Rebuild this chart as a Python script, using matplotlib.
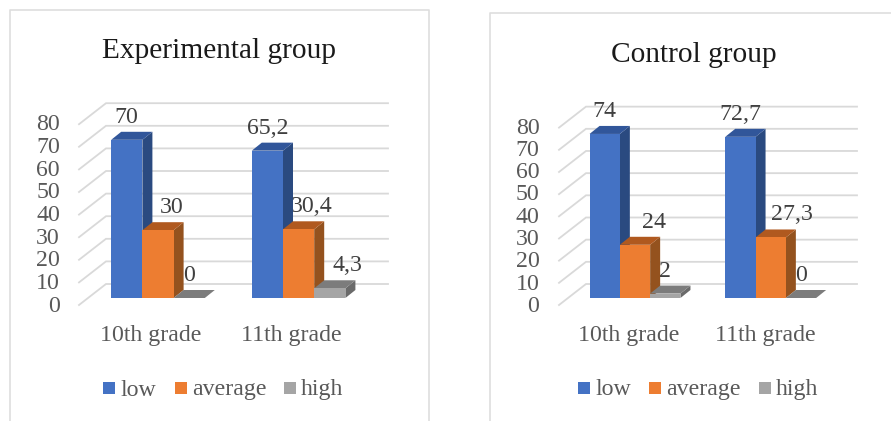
import matplotlib
matplotlib.use("Agg")
import matplotlib.pyplot as plt
from matplotlib.patches import Polygon, Rectangle

plt.rcParams["font.family"] = "Liberation Serif"

W, H = 891, 421
grades = ["10th grade", "11th grade"]
levels = ["low", "average", "high"]
y_ticks = [0, 10, 20, 30, 40, 50, 60, 70, 80]

exp_low = [70, 65.2]
exp_average = [30, 30.4]
exp_high = [0, 4.3]

ctl_low = [74, 72.7]
ctl_average = [24, 27.3]
ctl_high = [2, 0]

FRONT = ["#4472C4", "#ED7D31", "#A5A5A5"]
SIDE = ["#2A4A80", "#94521E", "#6A6A6A"]
TOP = ["#31569A", "#B0591F", "#7C7C7C"]
GRID = "#D9D9D9"
FRAME = "#DEDEDE"
TICK = "#595959"
LABEL = "#404040"
FS = 17.2

fig = plt.figure(figsize=(W / 100, H / 100), dpi=100, facecolor="white")
bg = fig.add_axes([0, 0, 1, 1])
bg.set_xlim(0, W)
bg.set_ylim(H, 0)
bg.axis("off")


def fmt(v):
    return f"{v:g}".replace(".", ",")


def panel(title, series, layout):
    # series are drawn on axes whose data units are group index and percent
    x0, bw, gap = layout["x0"], layout["bw"], layout["gap"]
    y0, sy = layout["y0"], layout["sy"]
    xl, xr = layout["plane"]
    ax = fig.add_axes([xl / W, 1 - y0 / H, (xr - xl) / W, 80 * sy / H])
    ax.set_xlim((xl - x0) / gap, (xr - x0) / gap)
    ax.set_ylim(0, 80)
    ax.axis("off")

    def depth(x, v, dx, dy):
        # shift a point by a pixel offset, staying in data units
        return x + dx / gap, v + dy / sy

    # side wall and back wall gridlines
    for v in y_ticks:
        px, py = zip(
            depth(ax.get_xlim()[0], v, -9, -7),
            depth(ax.get_xlim()[0], v, 18, 14),
            depth(ax.get_xlim()[1], v, 18, 14),
        )
        ax.plot(px, py, color=GRID, lw=1.3, clip_on=False, zorder=1,
                solid_joinstyle="miter")

    w = bw / gap
    for s, vals in enumerate(series):
        for g, v in enumerate(vals):
            xc = g + (s - 1) * w
            shift = layout["shift"][s][g]
            ax.text(xc + shift / gap, v + 25 / sy, fmt(v), ha="center", va="center_baseline",
                    fontsize=FS, color=LABEL, zorder=2, clip_on=False)

    # later bars cover the labels and side faces of earlier ones
    zo = 3
    for s, vals in enumerate(series):
        for g, v in enumerate(vals):
            xc = g + (s - 1) * w
            a, b = xc - w / 2, xc + w / 2
            side = [depth(b, 0, 0, 0), depth(b, 0, 10, 8), depth(b, v, 10, 8), depth(b, v, 0, 0)]
            top = [depth(a, v, 0, 0), depth(a, v, 10, 8), depth(b, v, 10, 8), depth(b, v, 0, 0)]
            ax.add_patch(Polygon(side, closed=True, fc=SIDE[s], ec="none", zorder=zo, clip_on=False))
            ax.add_patch(Polygon(top, closed=True, fc=TOP[s], ec="none", zorder=zo, clip_on=False))
            ax.bar([xc], [v], width=w, color=FRONT[s], zorder=zo, clip_on=False)
            zo += 1

    # text set in figure pixels
    for v, yp in zip(y_ticks, layout["ticks_y"]):
        bg.text(layout["tick_x"], yp, str(v), ha="right", va="center_baseline", fontsize=FS, color=TICK)
    for g, xp in zip(grades, layout["cat_x"]):
        bg.text(xp, 341, g, ha="center", va="baseline", fontsize=FS, color=TICK)
    bg.text(layout["title_x"], layout["title_y"], title, ha="center", va="baseline",
            fontsize=layout["title_fs"], color="#1A1A1A")
    for name, c, sq in zip(levels, FRONT, layout["legend"]):
        bg.add_patch(Rectangle((sq, 382), 12, 12, fc=c, ec="none"))
        bg.text(sq + 17, layout["legend_y"], name, ha="left", va="baseline", fontsize=FS, color=TICK)


panel(
    "Experimental group",
    [exp_low, exp_average, exp_high],
    dict(x0=158, bw=31.2, gap=140.6, y0=298, sy=2.26, plane=(88, 370),
         shift=[[0, 0], [14, 13], [0, 18]],
         ticks_y=[304 - i * 22.75 for i in range(9)], tick_x=60,
         cat_x=[151, 291], title_x=218.5, title_y=58, title_fs=21.2,
         legend=[103, 175, 284], legend_y=395.5),
)
panel(
    "Control group",
    [ctl_low, ctl_average, ctl_high],
    dict(x0=635, bw=30.3, gap=135.7, y0=298, sy=2.217, plane=(568, 839),
         shift=[[0, 0], [19, 21], [0, 0]],
         ticks_y=[304 - i * 22.3 for i in range(9)], tick_x=539.5,
         cat_x=[629, 765], title_x=693.5, title_y=61.5, title_fs=21.2,
         legend=[578, 649, 759], legend_y=394.7),
)

# chart area frames, open at the bottom edge
bg.plot([9.5, 9.5, 429, 429], [H, 9.5, 9.5, H], color=FRAME, lw=1.2)
bg.plot([489.5, 489.5, 891], [H, 13, 13], color=FRAME, lw=1.2)

fig.savefig("out.png", dpi=100)
